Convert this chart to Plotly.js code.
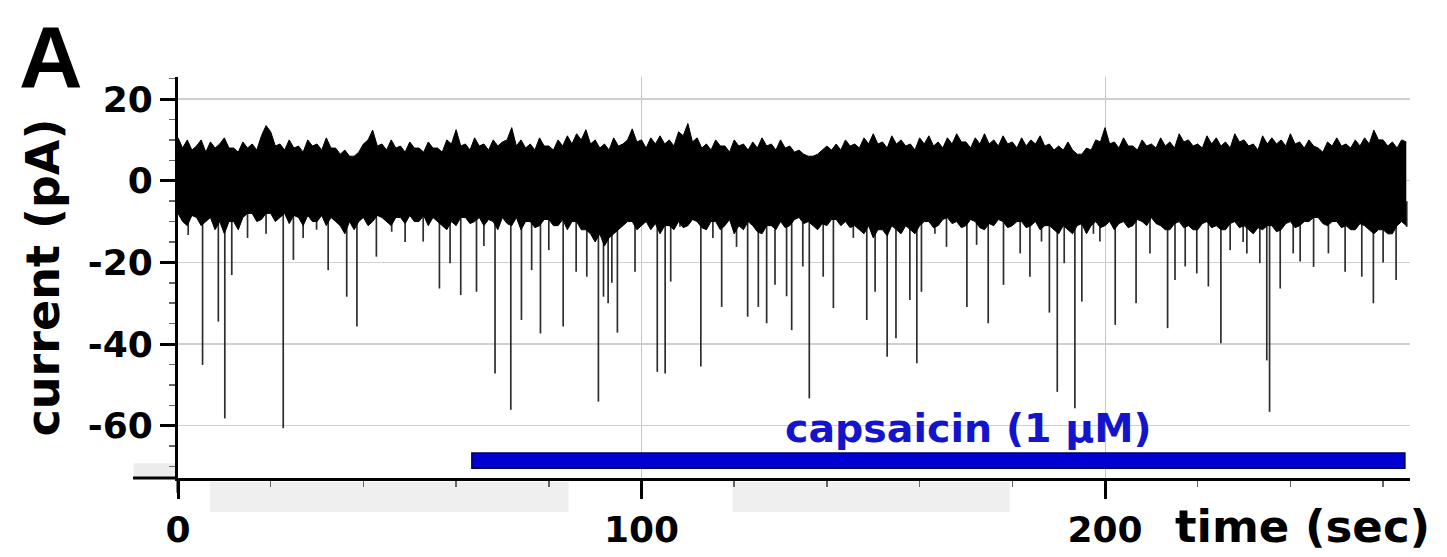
<!DOCTYPE html>
<html>
<head>
<meta charset="utf-8">
<script src="https://cdn.plot.ly/plotly-3.0.1.min.js"></script>
<style>html,body{margin:0;padding:0;background:#fff;}#chart{width:1447px;height:557px;}</style>
</head>
<body>
<div id="chart"></div>
<script>
// ---- data ----
// noise band envelope (pA), sampled every envStep seconds from t = 0
const envStep = 1;
const noiseUpper = [
  10.5, 8, 10, 7.5, 8.5, 10, 7, 9.5, 8, 9,
  10.5, 8, 8, 7, 9.5, 8, 9, 7.5, 11, 13.5,
  12, 8.5, 9, 7.5, 10, 8, 8.5, 7, 10, 8.5,
  9, 7.5, 10.5, 8, 8, 6.5, 7.5, 6, 6, 7,
  9, 10, 12.4, 8.5, 9, 7.5, 10, 8, 8.5, 7,
  9.5, 8, 8, 7, 9.5, 8, 8, 7, 10, 9,
  12.5, 8.5, 9, 7.5, 10.5, 8.5, 9, 7.5, 10, 8.5,
  9.5, 10, 13, 8.5, 10, 8, 9, 7.5, 10.5, 8.5,
  8.5, 7.5, 10, 8.5, 11, 9, 11.5, 10, 12.5, 9,
  10, 8, 9, 7.5, 10.5, 8.5, 9, 10, 12.7, 9.5,
  10, 8, 10.5, 9, 11, 9, 10, 8.5, 12, 11,
  14, 9.5, 10.5, 8, 9, 7.5, 10, 8.5, 8.5, 7,
  10, 8.5, 9, 7.5, 9.5, 8, 10.5, 8.5, 9, 7.5,
  10, 8, 8.5, 7, 7.5, 6.5, 6, 6, 6.5, 7.5,
  8.5, 7.5, 9, 7.5, 10, 8.5, 9, 8, 10.5, 9,
  11.5, 9, 9.5, 8, 11, 9, 10, 8.5, 9, 7.5,
  10.5, 9, 11, 8.5, 9.5, 8, 10.5, 9, 11.5, 9.5,
  9.5, 8, 10.5, 9, 11.5, 9, 10, 8.5, 11, 9,
  9.5, 8, 10.5, 8.5, 10, 9, 11, 8.5, 9, 7.5,
  8.5, 7.5, 9.5, 7.5, 6.5, 6.5, 8, 7.5, 10, 9.5,
  13, 9, 9.5, 8, 10.5, 8.5, 8.5, 7.5, 10, 8.5,
  9, 8, 10.5, 8.5, 9.5, 8, 11.5, 9.5, 10, 8.5,
  9, 8, 11, 9, 10.5, 8.5, 9.5, 8, 11.5, 9.5,
  10, 8.5, 9, 7.5, 11, 9, 10.5, 9, 10, 8.5,
  11.5, 9, 9.5, 8, 10, 8.5, 8, 7, 9.5, 8.5,
  10.5, 8.5, 9, 8, 10, 8.5, 10.5, 9, 12.4, 10,
  10, 8.5, 9.5, 8, 10, 9.5
];
const noiseLower = [
  -8, -10, -11, -8.5, -9, -11, -10, -9, -12, -10,
  -13, -10, -10, -12, -9, -8, -8, -10, -9.5, -8,
  -8, -10, -9, -8, -10.5, -8.5, -9, -11, -8.5, -10,
  -10, -8.5, -11, -9, -10, -11, -13, -10, -12, -10,
  -9, -11, -10, -8.5, -9, -10, -11, -9, -9, -10.5,
  -8.5, -10, -10, -8.5, -11, -9, -10, -11, -12, -10,
  -11, -9, -9, -10.5, -10, -9, -11, -9.5, -10, -12,
  -9, -10.5, -11, -9, -12, -10, -10, -11.5, -11, -9.5,
  -9.5, -11, -11, -9.5, -12, -10, -10, -12, -12, -13,
  -15, -13, -16, -14, -13, -12, -11, -10, -10, -12,
  -11, -10, -12, -10.5, -13, -11, -11, -12, -10, -11.5,
  -11, -9.5, -10, -11.5, -12, -10, -10, -12, -11, -9.5,
  -13, -11, -12, -10, -11, -12.5, -13, -11, -11, -12,
  -10, -11.5, -11, -9.5, -9, -10.5, -10, -11, -12, -10.5,
  -11, -9.5, -9.5, -11, -10, -11.5, -11, -12, -13, -11,
  -14, -12, -12, -13.5, -11, -12, -13, -11, -12, -13,
  -11, -10, -10, -11.5, -11, -9.5, -9, -10.5, -10, -11.5,
  -11, -9.5, -10, -11.5, -12, -10.5, -11, -9.5, -10, -11.5,
  -11, -10, -10, -11.5, -11, -10, -12, -11, -11, -12,
  -13, -11, -12, -13, -11, -10.5, -13, -11, -10, -11.5,
  -11, -10, -12, -10.5, -10, -11.5, -11, -9.5, -10, -11,
  -9, -10.5, -11, -12, -12, -10.5, -10, -11.5, -11, -12,
  -12, -10.5, -10, -11.5, -11, -12, -12, -10.5, -10, -11.5,
  -11, -12, -13, -11.5, -12, -11, -11, -12.5, -12, -10.5,
  -10, -11.5, -11, -10, -10, -9, -9, -10.5, -11, -10,
  -10, -11.5, -11, -12, -12, -10.5, -11, -12, -13, -12,
  -12, -13, -13, -11, -10, -11
];
// inward current events: time (s) and peak (pA)
const eventTime = [
  2.2, 5.3, 8.7, 10.1, 11.6, 15.0, 19.0, 22.7, 24.9, 27.0, 29.9, 32.4, 36.4, 38.6,
  42.8, 46.1, 49.0, 52.9, 56.4, 58.7, 61.0, 64.4, 66.0, 68.4, 71.8, 74.1, 76.3, 78.2,
  80.0, 83.1, 85.9, 88.2, 90.7, 91.8, 92.8, 93.6, 94.8, 98.6, 103.4, 105.1, 106.3,
  108.3, 112.8, 115.4, 117.3, 120.5, 122.9, 125.2, 127.0, 128.8, 131.3, 132.4, 134.8,
  136.2, 139.2, 141.4, 145.7, 148.6, 150.4, 153.0, 154.9, 157.9, 159.4, 160.4, 163.3,
  165.8, 170.2, 172.3, 174.8, 178.1, 181.7, 183.8, 186.3, 188.0, 189.7, 191.2, 193.5,
  195.0, 197.5, 198.9, 202.2, 206.7, 209.7, 213.5, 215.1, 217.3, 219.8, 222.3, 225.0,
  227.0, 229.8, 230.6, 233.4, 234.9, 235.5, 237.8, 240.6, 242.1, 245.0, 248.2, 251.8,
  255.4, 257.9, 260.0, 262.8, 265.1
];
const eventPeak = [
  -13.3, -45.1, -34.5, -58.2, -23.1, -14, -13, -60.6, -19.4, -14, -12, -21.9, -28.4, -35.7,
  -18.6, -12.5, -15, -14.9, -26.4, -20.2, -28.0, -27.2, -16, -47.2, -56.1, -34.1, -21.9, -37.4,
  -17, -35.7, -22.3, -23.5, -54.1, -28.4, -30, -25, -37.2, -22.3, -46.8, -47.2, -24.7,
  -11.3, -45.5, -14, -30.9, -16.2, -33.3, -30.9, -34.9, -25.5, -28.3, -36.6, -21,
  -53.3, -23.5, -31.2, -14, -34.1, -27.2, -43.1, -38.6, -29.2, -44.7, -27.2, -13,
  -16.2, -30.9, -15.7, -34.9, -25.5, -17.8, -23.5, -14.9, -32.3, -51.7, -20.2, -55.7,
  -29.6, -13, -14.9, -35.3, -30.0, -17.8, -36.1, -24.3, -21, -22.7, -25.9, -39.8,
  -17.0, -15, -17.8, -20.2, -44, -56.6, -26.4, -17.8, -19.8, -21.1, -17.8, -22.3,
  -23.5, -30.0, -20, -24.3, -11.3
];
const eventBase = -5;
// capsaicin application (s)
const capStart = 63.4, capEnd = 264.7;
const capLabel = 'capsaicin (1 μM)';
// axes ticks
const xTickVals = [0, 100, 200];
const xTickText = ['0', '100', '200'];
const yTickVals = [-60, -40, -20, 0, 20];
const yTickText = ['-60', '-40', '-20', '0', '20'];

// ---- build traces ----
const envT = noiseUpper.map((_, i) => i * envStep);
const evX = [], evY = [];
eventTime.forEach((t, i) => { evX.push(t, t, null); evY.push(eventBase, eventPeak[i], null); });

const traces = [
  {x: evX, y: evY, mode: 'lines', line: {color: 'rgb(45,45,45)', width: 1.7}, hoverinfo: 'skip'},
  {x: envT, y: noiseLower, mode: 'lines', line: {color: '#000', width: 1}, hoverinfo: 'skip'},
  {x: envT, y: noiseUpper, mode: 'lines', fill: 'tonexty', fillcolor: '#000', line: {color: '#000', width: 1}, hoverinfo: 'skip'}
];

const F = 'DejaVu Sans, Arial, sans-serif';
const layout = {
  width: 1447, height: 557,
  margin: {l: 178, r: 37, t: 77, b: 79},
  paper_bgcolor: '#fff', plot_bgcolor: '#fff',
  showlegend: false,
  xaxis: {
    range: [0, 265.8], showline: true, linewidth: 3, linecolor: '#000',
    tickmode: 'array', tickvals: xTickVals, ticktext: xTickText,
    ticks: 'outside', ticklen: 18, tickwidth: 3, tickcolor: '#000',
    showgrid: true, gridcolor: '#c4c4c4', gridwidth: 1, zeroline: false,
    tickfont: {family: F, size: 36, color: '#000', weight: 'bold'},
    minor: {dtick: 20, tick0: 0, ticks: 'outside', ticklen: 6, tickwidth: 1.5, tickcolor: '#666', showgrid: false}
  },
  yaxis: {
    range: [-72.8, 25.4], showline: true, linewidth: 3, linecolor: '#000',
    tickmode: 'array', tickvals: yTickVals, ticktext: yTickText,
    ticks: 'outside', ticklen: 15, tickwidth: 3, tickcolor: '#000',
    showgrid: true, gridcolor: '#cfcfcf', gridwidth: 1.5, zeroline: false,
    tickfont: {family: F, size: 36, color: '#000', weight: 'bold'},
    minor: {dtick: 5, tick0: 0, ticks: 'outside', ticklen: 6, tickwidth: 1.5, tickcolor: '#666', showgrid: false},
    title: {text: 'current (pA)', font: {family: F, size: 46, color: '#000', weight: 'bold'}, standoff: 14}
  },
  shapes: [
    {type: 'rect', xref: 'paper', yref: 'paper', x0: 0.026, x1: 0.317, y0: -0.01, y1: -0.085, fillcolor: '#efefef', line: {width: 0}, layer: 'below'},
    {type: 'rect', xref: 'paper', yref: 'paper', x0: 0.45, x1: 0.675, y0: -0.01, y1: -0.085, fillcolor: '#efefef', line: {width: 0}, layer: 'below'},
    {type: 'rect', xref: 'paper', yref: 'paper', x0: -0.036, x1: -0.002, y0: 0.0, y1: 0.037, fillcolor: '#ececec', line: {width: 0}, layer: 'below'},
    {type: 'line', xref: 'paper', yref: 'paper', x0: -0.0365, x1: 0, y0: 0, y1: 0, line: {color: '#000', width: 3}},
    {type: 'line', xref: 'paper', yref: 'paper', x0: 0, x1: 0, y0: 0, y1: -0.037, line: {color: '#000', width: 3}},
    {type: 'rect', xref: 'x', yref: 'y', x0: capStart, x1: capEnd, y0: -70.4, y1: -66.7, fillcolor: 'rgb(0,0,210)', line: {color: 'rgb(0,0,90)', width: 1.5}}
  ],
  annotations: [
    {text: 'A', xref: 'paper', yref: 'paper', x: -0.103, y: 1.052, xanchor: 'center', yanchor: 'middle', showarrow: false,
     font: {family: 'Liberation Sans, Arial, sans-serif', size: 88, color: '#000', weight: 'bold'}},
    {text: 'time (sec)', xref: 'paper', yref: 'paper', x: 0.913, y: -0.12, xanchor: 'center', yanchor: 'middle', showarrow: false,
     font: {family: F, size: 45, color: '#000', weight: 'bold'}},
    {text: capLabel, xref: 'x', yref: 'y', x: (capStart + capEnd) / 2 + 6.5, y: -60.5, xanchor: 'center', yanchor: 'middle', showarrow: false,
     font: {family: F, size: 39.5, color: 'rgb(20,20,205)', weight: 'bold'}}
  ]
};

Plotly.newPlot('chart', traces, layout, {staticPlot: true, displayModeBar: false});
</script>
</body>
</html>
